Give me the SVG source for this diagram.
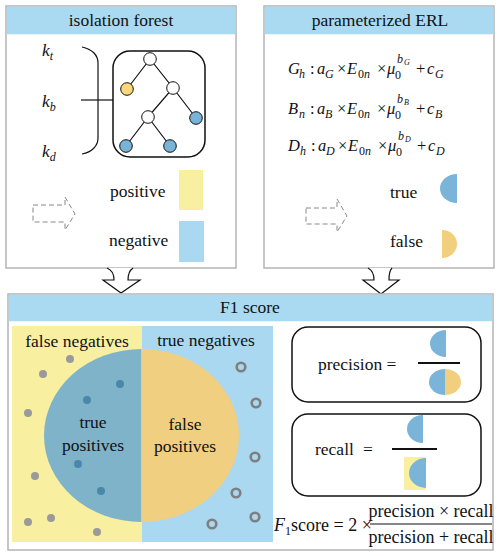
<svg xmlns="http://www.w3.org/2000/svg" width="500" height="556" viewBox="0 0 500 556" font-family="'Liberation Serif', 'DejaVu Serif', serif">
<style>
text{font-family:'Liberation Serif','Times New Roman','DejaVu Serif',serif;fill:#111;}
.t{font-size:17.5px;}
.it{font-style:italic;}
.panel{fill:#fff;stroke:#b4b4b4;stroke-width:1.5;}
.hdr{fill:#aad9f2;}
.edge{stroke:#111;stroke-width:1.2;fill:none;}
.tn{stroke:#111;stroke-width:1;}
.dash{fill:none;stroke:#888;stroke-width:1;stroke-dasharray:5,3;}
.hollow{fill:#fff;stroke:#111;stroke-width:1.2;}
.gd{fill:#9a9a9a;}
.bd{fill:#4a87a8;}
.ring{fill:none;stroke:#7f7f7f;stroke-width:2.6;}
.box{fill:#fff;stroke:#111;stroke-width:1.5;}
.bar{stroke:#111;stroke-width:2;}
.blue{fill:#7ab5d9;}
.yel{fill:#f2cf7f;}
.eq{font-size:16.5px;}
.sub{font-size:12px;}
.ss{font-size:8px;}
</style>

<g id="panel-isolation">
<rect class="panel" x="6" y="6" width="230" height="262"/>
<rect class="hdr" x="6.75" y="6.75" width="228.5" height="27.5"/>
<text class="t" x="121" y="26" text-anchor="middle">isolation forest</text>
<text class="t it" x="42" y="56">k<tspan class="sub" dy="4">t</tspan></text>
<text class="t it" x="42" y="107">k<tspan class="sub" dy="4">b</tspan></text>
<text class="t it" x="42" y="157">k<tspan class="sub" dy="4">d</tspan></text>
<path class="edge" d="M82,47 C92,49 98,55 98,63 L98,138 C98,146 92,152 82,154"/>
<path class="edge" d="M81,100 H113"/>
<rect x="113" y="51" width="92" height="106" rx="17" class="box"/>
<path class="edge" d="M150,59 L127,89 M150,59 L173,88 L148,117 M173,88 L196,118 M148,117 L126,146 M148,117 L170,146"/>
<circle class="tn" cx="150" cy="59" r="6.3" fill="#fff"/>
<circle class="tn" cx="127" cy="89" r="6.3" fill="#f9d77a"/>
<circle class="tn" cx="173" cy="88" r="6.3" fill="#fff"/>
<circle class="tn" cx="148" cy="117" r="6.3" fill="#fff"/>
<circle class="tn" cx="196" cy="118" r="6.3" fill="#78b4d8"/>
<circle class="tn" cx="126" cy="146" r="6.3" fill="#78b4d8"/>
<circle class="tn" cx="170" cy="146" r="6.3" fill="#78b4d8"/>
<path class="dash" d="M33,205 H65 V197 L75,214 L65,230 V222 H33 Z"/>
<text class="t" x="110" y="197">positive</text>
<text class="t" x="109" y="246">negative</text>
<rect x="179" y="170" width="24" height="40" fill="#f8f0a0"/>
<rect x="179" y="221" width="25" height="41" fill="#aad8f0"/>
</g>

<g id="panel-erl">
<rect class="panel" x="264" y="6" width="230" height="262"/>
<rect class="hdr" x="264.75" y="6.75" width="228.5" height="27.5"/>
<text class="t" x="380" y="26" text-anchor="middle">parameterized ERL</text>
<g class="eq">
<text class="eq it" x="288" y="74">G</text><text class="sub it" x="299" y="78">h</text>
<text class="eq" x="310" y="74">:</text>
<text class="eq it" x="317" y="74">a</text><text class="sub it" x="325" y="78">G</text>
<text class="eq" x="337" y="74">×</text>
<text class="eq it" x="347" y="74">E</text><text class="sub" x="358" y="78">0<tspan class="it">n</tspan></text>
<text class="eq" x="377" y="74">×</text>
<text class="eq it" x="387" y="74">μ</text><text class="sub" x="395" y="79">0</text>
<text class="sub it" x="397" y="63">b</text><text class="ss it" x="404" y="65">G</text>
<text class="eq" x="416" y="74">+</text>
<text class="eq it" x="427" y="74">c</text><text class="sub it" x="435" y="78">G</text>

<text class="eq it" x="288" y="114">B</text><text class="sub it" x="299" y="118">n</text>
<text class="eq" x="310" y="114">:</text>
<text class="eq it" x="317" y="114">a</text><text class="sub it" x="325" y="118">B</text>
<text class="eq" x="337" y="114">×</text>
<text class="eq it" x="347" y="114">E</text><text class="sub" x="358" y="118">0<tspan class="it">n</tspan></text>
<text class="eq" x="377" y="114">×</text>
<text class="eq it" x="387" y="114">μ</text><text class="sub" x="395" y="119">0</text>
<text class="sub it" x="397" y="103">b</text><text class="ss it" x="404" y="105">B</text>
<text class="eq" x="416" y="114">+</text>
<text class="eq it" x="427" y="114">c</text><text class="sub it" x="435" y="118">B</text>

<text class="eq it" x="288" y="151">D</text><text class="sub it" x="300" y="155">h</text>
<text class="eq" x="311" y="151">:</text>
<text class="eq it" x="318" y="151">a</text><text class="sub it" x="326" y="155">D</text>
<text class="eq" x="338" y="151">×</text>
<text class="eq it" x="348" y="151">E</text><text class="sub" x="359" y="155">0<tspan class="it">n</tspan></text>
<text class="eq" x="378" y="151">×</text>
<text class="eq it" x="388" y="151">μ</text><text class="sub" x="396" y="156">0</text>
<text class="sub it" x="398" y="140">b</text><text class="ss it" x="405" y="142">D</text>
<text class="eq" x="417" y="151">+</text>
<text class="eq it" x="428" y="151">c</text><text class="sub it" x="436" y="155">D</text>
</g>
<path class="dash" d="M306,208 H337 V199 L347,216 L337,232 V224 H306 Z"/>
<text class="t" x="390" y="198">true</text>
<text class="t" x="390" y="247">false</text>
<path class="blue" d="M457,174 A17,14.5 0 0 0 457,203 Z"/>
<path class="yel" d="M442,230 A15,14 0 0 1 442,258 Z"/>
</g>

<g id="connectors">
<path class="hollow" d="M107,268 C112,270 114,274 114,280 L103,280 L121,293 L140,280 L128,280 C128,274 130,270 133,268"/>
<path class="hollow" d="M368,268 C372,270 374,274 374,280 L363,280 L381,294 L399,280 L389,280 C389,274 390,270 392,268"/>
</g>

<g id="panel-f1">
<rect class="panel" x="8" y="294" width="485" height="256"/>
<rect class="hdr" x="8.75" y="294.75" width="483.5" height="26.5"/>
<text class="t" x="250" y="313" text-anchor="middle">F1 score</text>
<rect x="12" y="326" width="130" height="216" fill="#f8f0a0"/>
<rect x="142" y="326" width="131" height="216" fill="#aad8f0"/>
<path d="M141.5,349 A97.5,86.5 0 0 0 141.5,522 Z" fill="#7fb3c9"/>
<path d="M141.5,349 A97.5,86.5 0 0 1 141.5,522 Z" fill="#f0cf80"/>
<text class="t" x="77" y="347" text-anchor="middle">false negatives</text>
<text class="t" x="206" y="346" text-anchor="middle">true negatives</text>
<text class="t" x="93" y="428" text-anchor="middle">true</text>
<text class="t" x="93" y="451" text-anchor="middle">positives</text>
<text class="t" x="185" y="430" text-anchor="middle">false</text>
<text class="t" x="185" y="452" text-anchor="middle">positives</text>
<circle class="gd" cx="70" cy="359" r="4"/>
<circle class="gd" cx="43" cy="374" r="4"/>
<circle class="gd" cx="28" cy="413" r="4"/>
<circle class="gd" cx="35" cy="476" r="4"/>
<circle class="gd" cx="28" cy="522" r="4"/>
<circle class="gd" cx="51" cy="518" r="4"/>
<circle class="gd" cx="97" cy="532" r="4"/>
<circle class="bd" cx="120" cy="384" r="4"/>
<circle class="bd" cx="87" cy="400" r="4"/>
<circle class="bd" cx="78" cy="464" r="4"/>
<circle class="bd" cx="101" cy="491" r="4"/>
<circle class="ring" cx="241" cy="367" r="4.3"/>
<circle class="ring" cx="256" cy="403" r="4.3"/>
<circle class="ring" cx="255" cy="457" r="4.3"/>
<circle class="ring" cx="236" cy="493" r="4.3"/>
<circle class="ring" cx="255" cy="517" r="4.3"/>
<circle class="ring" cx="212" cy="524" r="4.3"/>

<rect class="box" x="292" y="327" width="189" height="75" rx="16"/>
<text class="t" x="318" y="370">precision =</text>
<path class="blue" d="M446,330 A16,13.5 0 0 0 446,357 Z"/>
<line class="bar" x1="418" y1="363" x2="460" y2="363"/>
<path class="blue" d="M445,369 A16,13 0 0 0 445,395 Z"/>
<path class="yel" d="M445,369 A16,13 0 0 1 445,395 Z"/>

<rect class="box" x="292" y="414" width="189" height="82" rx="16"/>
<text class="t" x="315" y="455">recall</text>
<text class="t" x="363" y="455">=</text>
<path class="blue" d="M423,415 A16,14 0 0 0 423,443 Z"/>
<line class="bar" x1="392" y1="449" x2="437" y2="449"/>
<rect x="404" y="457" width="22" height="33" fill="#f8f0a0"/>
<path class="blue" d="M426,458 A17,15 0 0 0 426,488 Z"/>

<text style="font-size:18px" x="274" y="531"><tspan class="it">F</tspan><tspan class="sub" dy="4">1</tspan><tspan dy="-4">score = 2 ×</tspan></text>
<text style="font-size:18px" x="431" y="517" text-anchor="middle">precision × recall</text>
<line x1="370" y1="524" x2="492" y2="524" stroke="#111" stroke-width="1.2"/>
<text style="font-size:18px" x="431" y="543" text-anchor="middle">precision + recall</text>
</g>
</svg>
